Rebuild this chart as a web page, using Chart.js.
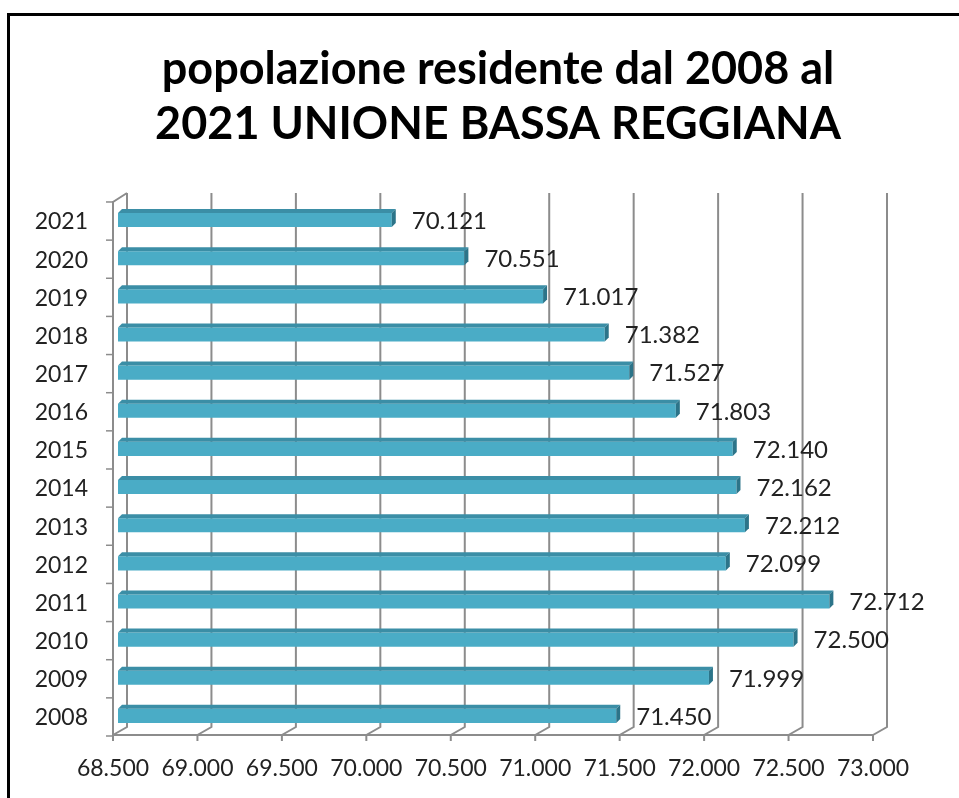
<!DOCTYPE html>
<html lang="it">
<head>
<meta charset="utf-8">
<title>popolazione residente dal 2008 al 2021 UNIONE BASSA REGGIANA</title>
<script src="https://cdn.jsdelivr.net/npm/chart.js@4.4.1/dist/chart.umd.min.js"></script>
<style>
    html, body { margin: 0; padding: 0; background: #fff; overflow: hidden; }
    #cornice {
        position: absolute; left: 7px; top: 13px; width: 1100px; height: 900px;
        border-left: 3px solid #000; border-top: 3px solid #000;
    }
    #contenitore { position: absolute; left: 0; top: 0; width: 959px; height: 798px; }
</style>
</head>
<body>
<div id="cornice"></div>
<div id="contenitore"><canvas id="popolazioneChart"></canvas></div>
<script>
// Dati: anni dall'alto verso il basso e residenti per anno
const anni = ['2021', '2020', '2019', '2018', '2017', '2016', '2015', '2014', '2013', '2012', '2011', '2010', '2009', '2008'];
const residenti = [70121, 70551, 71017, 71382, 71527, 71803, 72140, 72162, 72212, 72099, 72712, 72500, 71999, 71450];
const asseMin = 68500;
const asseMax = 73000;
const asseStep = 500;
const titolo = ['popolazione residente dal 2008 al', '2021 UNIONE BASSA REGGIANA'];

const FONT = 'Lato, "Open Sans", sans-serif';
const TESTO = '#222';
const GRIGLIA = '#8c8c8c';

// profondità della finta vista 3D (in pixel)
const FRONTE_DX = -5;
const RETRO_DX = 9, RETRO_DY = -8;
const BARRA_DX = 4, BARRA_DY = 4;

/**
 * Formato italiano: 68500 -> 68.500
 */
function formatoIt(v) {
    const migliaia = Math.floor(v / 1000);
    const resto = String(Math.round(v % 1000)).padStart(3, '0');
    return migliaia + '.' + resto;
}

// Pareti, pavimento e griglia in stile Excel 3D
const pannello3d = {
    id: 'pannello3d',
    beforeDatasetsDraw(chart) {
        const ctx = chart.ctx;
        const area = chart.chartArea;
        const x = chart.scales.x;
        ctx.save();
        ctx.strokeStyle = GRIGLIA;
        ctx.lineWidth = 2;

        // linee verticali sul fondo + raccordo sul pavimento + tacche
        x.ticks.forEach(t => {
            const px = x.getPixelForValue(t.value);
            ctx.beginPath();
            ctx.moveTo(px + RETRO_DX, area.top + RETRO_DY);
            ctx.lineTo(px + RETRO_DX, area.bottom + RETRO_DY);
            ctx.lineTo(px + FRONTE_DX, area.bottom);
            ctx.lineTo(px + FRONTE_DX, area.bottom + 6);
            ctx.stroke();
        });

        // bordo frontale del pavimento
        ctx.beginPath();
        ctx.moveTo(x.getPixelForValue(asseMin) + FRONTE_DX, area.bottom);
        ctx.lineTo(x.getPixelForValue(asseMax) + FRONTE_DX, area.bottom);
        ctx.stroke();

        // parete sinistra (spigolo frontale)
        const sx = area.left + FRONTE_DX;
        ctx.beginPath();
        ctx.moveTo(area.left + RETRO_DX, area.top + RETRO_DY);
        ctx.lineTo(sx, area.top + 1);
        ctx.lineTo(sx, area.bottom);
        ctx.stroke();

        // tacche delle categorie
        const passo = (area.bottom - area.top) / anni.length;
        ctx.lineWidth = 1.5;
        for (let k = 0; k <= anni.length; k++) {
            const py = area.top + 1 + k * passo;
            ctx.beginPath();
            ctx.moveTo(sx - 7, py);
            ctx.lineTo(sx, py);
            ctx.stroke();
        }
        ctx.restore();
    },
    afterDatasetsDraw(chart) {
        const ctx = chart.ctx;
        const area = chart.chartArea;
        const meta = chart.getDatasetMeta(0);
        ctx.save();
        meta.data.forEach((bar, i) => {
            const top = bar.y - bar.height / 2;
            const bottom = bar.y + bar.height / 2;
            const base = Math.max(bar.base, area.left);
            // faccia superiore
            ctx.fillStyle = '#3b8ea6';
            ctx.beginPath();
            ctx.moveTo(base, top);
            ctx.lineTo(base + BARRA_DX, top - BARRA_DY);
            ctx.lineTo(bar.x + BARRA_DX, top - BARRA_DY);
            ctx.lineTo(bar.x, top);
            ctx.closePath();
            ctx.fill();
            // testata
            ctx.fillStyle = '#2c7489';
            ctx.beginPath();
            ctx.moveTo(bar.x, top);
            ctx.lineTo(bar.x + BARRA_DX, top - BARRA_DY);
            ctx.lineTo(bar.x + BARRA_DX, bottom - BARRA_DY);
            ctx.lineTo(bar.x, bottom);
            ctx.closePath();
            ctx.fill();
            // etichetta valore
            ctx.fillStyle = TESTO;
            ctx.font = '24px ' + FONT;
            ctx.textAlign = 'left';
            ctx.textBaseline = 'middle';
            ctx.fillText(formatoIt(residenti[i]), bar.x + 20, bar.y + 1);
        });
        ctx.restore();
    }
};

const ctx = document.getElementById('popolazioneChart').getContext('2d');
new Chart(ctx, {
    type: 'bar',
    data: {
        labels: anni,
        datasets: [{
            label: 'Residenti',
            data: residenti,
            backgroundColor: '#4aacc6',
            borderWidth: 0,
            categoryPercentage: 1,
            barPercentage: 0.37
        }]
    },
    options: {
        indexAxis: 'y',
        responsive: true,
        maintainAspectRatio: false,
        animation: false,
        layout: {
            padding: { left: 0, right: 81, top: 0, bottom: 0 }
        },
        plugins: {
            legend: { display: false },
            tooltip: { enabled: false },
            title: {
                display: true,
                fullSize: false,
                text: titolo,
                color: '#000',
                font: { family: FONT, size: 45, weight: 'bold', lineHeight: 1.222 },
                padding: { top: 42, bottom: 49 }
            }
        },
        scales: {
            x: {
                type: 'linear',
                min: asseMin,
                max: asseMax,
                grid: { display: false, drawTicks: false },
                border: { display: false },
                ticks: {
                    stepSize: asseStep,
                    color: TESTO,
                    font: { family: FONT, size: 23 },
                    padding: 20,
                    labelOffset: FRONTE_DX,
                    maxRotation: 0,
                    autoSkip: false,
                    callback: function(value) {
                        return formatoIt(value);
                    }
                },
                afterFit: function(scale) {
                    scale.height = 63;
                    scale.paddingLeft = 0;
                    scale.paddingRight = 0;
                }
            },
            y: {
                grid: { display: false, drawTicks: false },
                border: { display: false },
                ticks: {
                    color: TESTO,
                    font: { family: FONT, size: 23 },
                    padding: 30,
                    labelOffset: 2
                },
                afterFit: function(scale) {
                    scale.width = 118;
                }
            }
        }
    },
    plugins: [pannello3d]
});
</script>
</body>
</html>
